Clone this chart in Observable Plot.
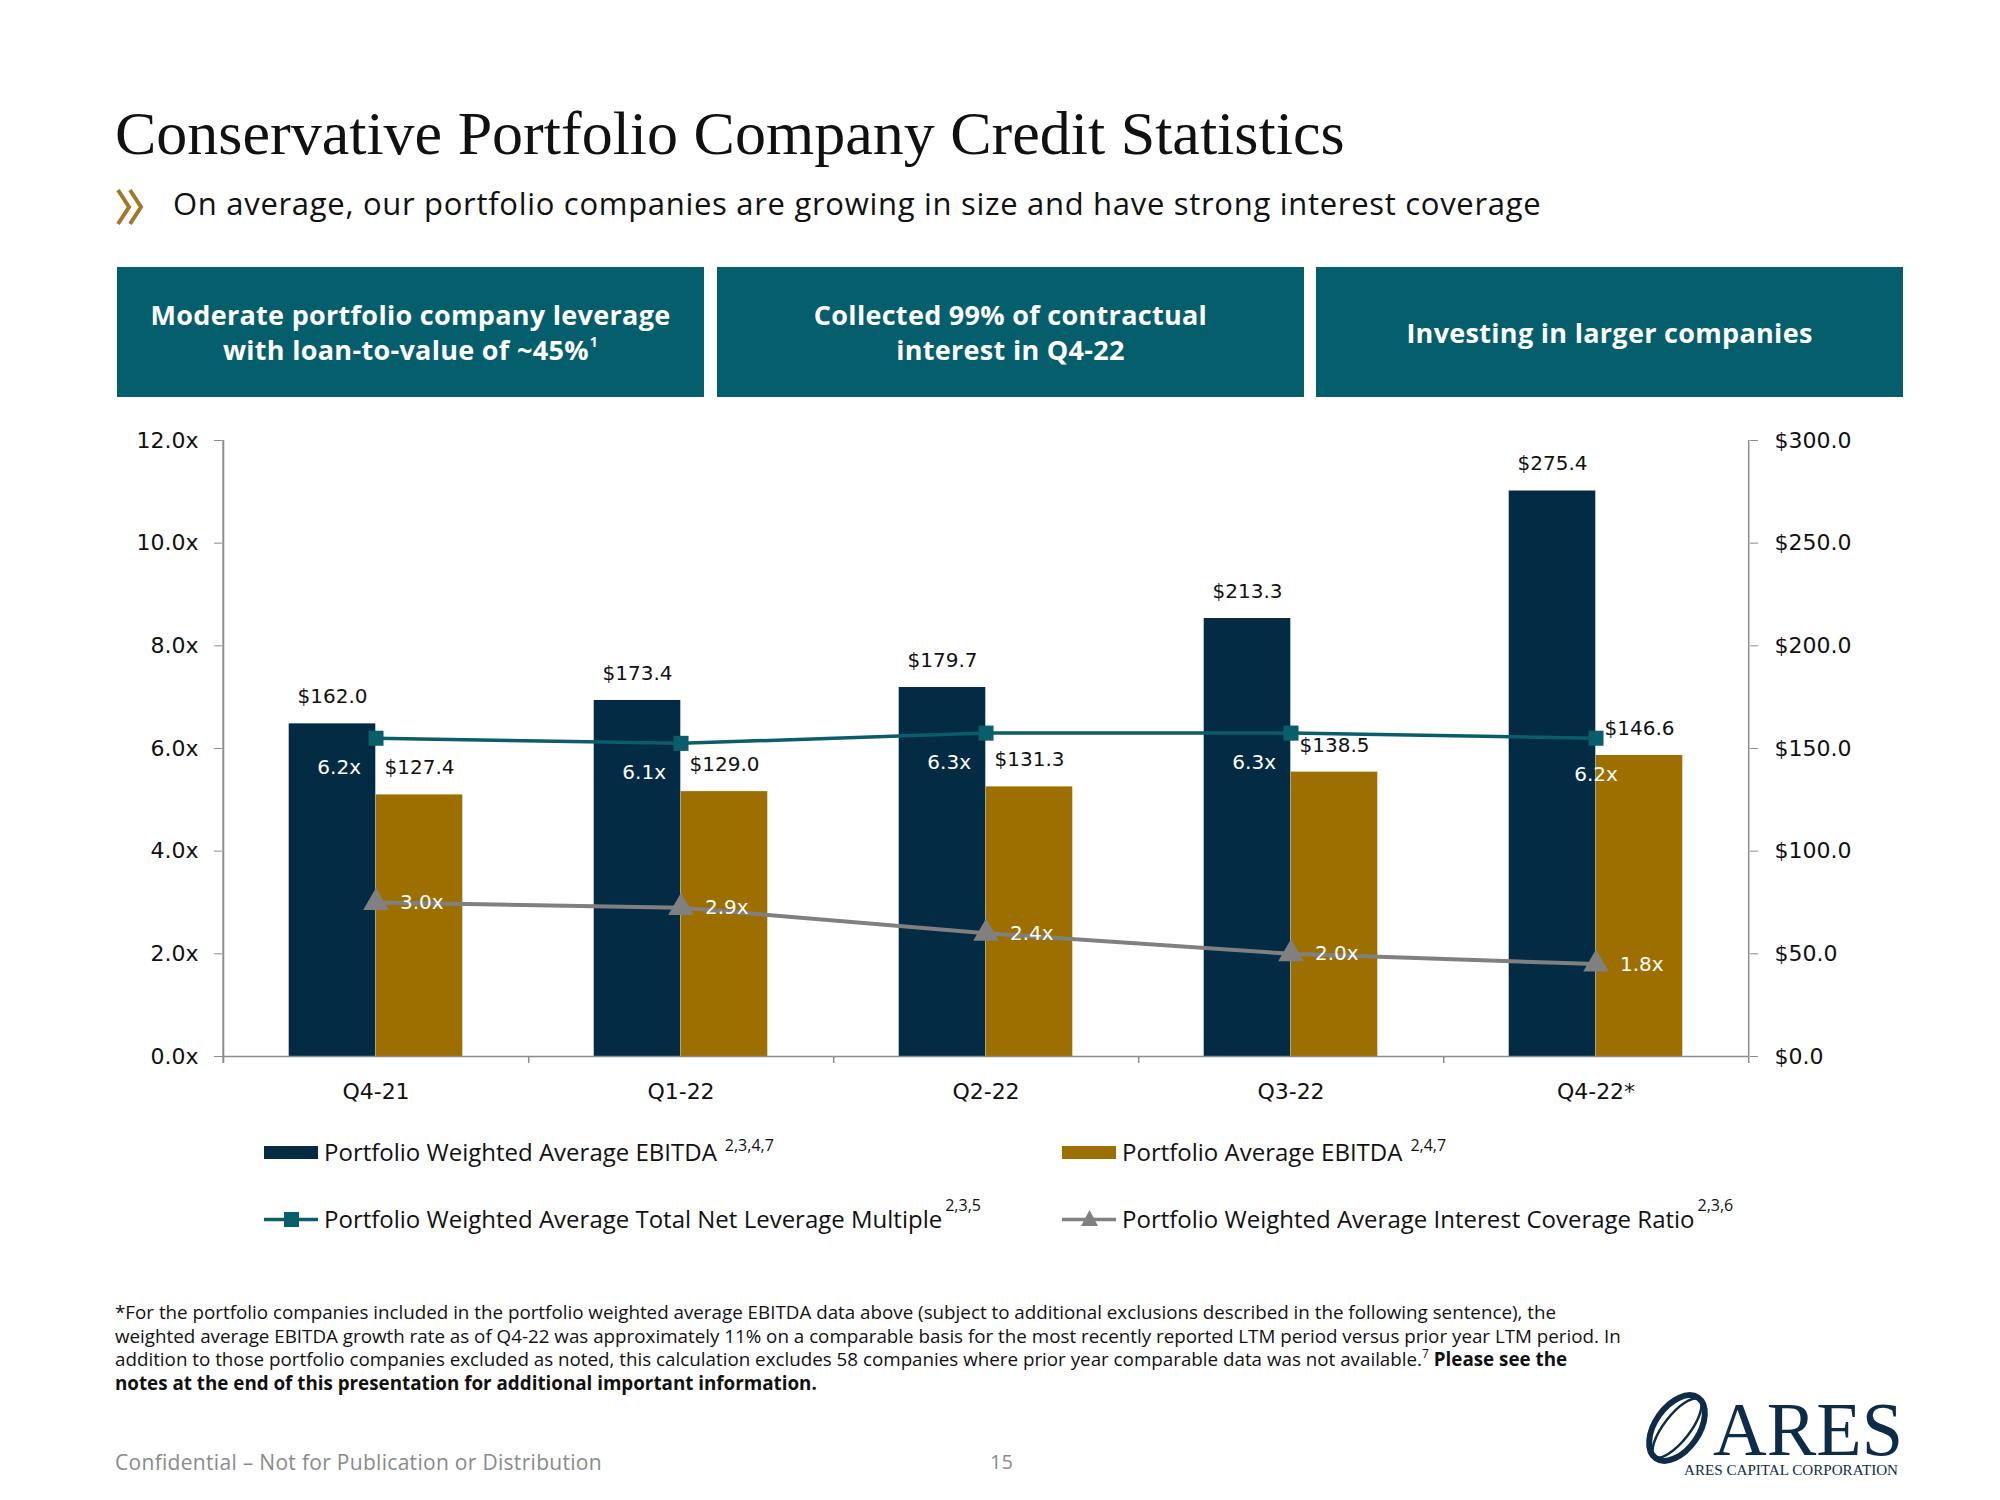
<!DOCTYPE html>
<html><head><meta charset="utf-8">
<script src="https://cdn.jsdelivr.net/npm/d3@7"></script>
<script src="https://cdn.jsdelivr.net/npm/@observablehq/plot@0.6"></script>
<style>
html,body{margin:0;padding:0;}
body{width:2000px;height:1500px;background:#fff;position:relative;overflow:hidden;font-family:"Open Sans",sans-serif;color:#111;}
.abs{position:absolute;}
#title{left:115px;top:102px;font-family:"Liberation Serif",serif;font-size:62px;line-height:62px;white-space:nowrap;color:#111;}
#subtitle{left:173px;top:186px;font-size:31px;line-height:34px;letter-spacing:0.7px;white-space:nowrap;color:#111;}
.hbox{top:267px;height:130px;width:587px;background:#055E6B;color:#fff;display:flex;align-items:center;justify-content:center;text-align:center;font-weight:700;font-size:27px;line-height:35px;letter-spacing:0.3px;}
.hbox sup{font-size:14px;line-height:0;vertical-align:baseline;position:relative;top:-13px;margin-left:1px;}
.chart{left:0;top:400px;}
.leg{font-size:24px;line-height:30px;white-space:nowrap;}
#foot{left:115px;top:1301px;width:1750px;font-size:18.8px;line-height:23.5px;color:#111;white-space:nowrap;}
#foot sup{font-size:12px;line-height:0;vertical-align:baseline;position:relative;top:-8px;}
#footer{left:115px;top:1450px;font-size:21px;line-height:24px;letter-spacing:0.3px;color:#8a8a8a;white-space:nowrap;}
#page{left:990px;top:1450px;font-size:20px;line-height:24px;color:#8a8a8a;}
</style></head><body>
<div id="title" class="abs">Conservative Portfolio Company Credit Statistics</div>
<svg class="abs" style="left:115px;top:188px" width="36" height="38" viewBox="0 0 36 38"><polyline points="3,2 14,19 3,36" fill="none" stroke="#A27828" stroke-width="4"/><polyline points="15,2 26,19 15,36" fill="none" stroke="#A27828" stroke-width="4"/></svg>
<div id="subtitle" class="abs">On average, our portfolio companies are growing in size and have strong interest coverage</div>
<div class="abs hbox" style="left:117px"><div>Moderate portfolio company leverage<br>with loan-to-value of ~45%<sup>1</sup></div></div>
<div class="abs hbox" style="left:717px"><div>Collected 99% of contractual<br>interest in Q4-22</div></div>
<div class="abs hbox" style="left:1316px"><div>Investing in larger companies</div></div>
<div id="bars" class="abs chart"></div>
<div id="lines" class="abs chart"></div>
<div id="legend"></div>
<div id="foot" class="abs">*For the portfolio companies included in the portfolio weighted average EBITDA data above (subject to additional exclusions described in the following sentence), the<br>weighted average EBITDA growth rate as of Q4-22 was approximately 11% on a comparable basis for the most recently reported LTM period versus prior year LTM period. In<br>addition to those portfolio companies excluded as noted, this calculation excludes 58 companies where prior year comparable data was not available.<sup>7</sup> <b>Please see the<br>notes at the end of this presentation for additional important information.</b></div>
<div id="footer" class="abs">Confidential – Not for Publication or Distribution</div>
<div id="page" class="abs">15</div>
<svg class="abs" style="left:1640px;top:1375px" width="270" height="112" viewBox="0 0 270 112">
  <ellipse cx="37" cy="53" rx="22" ry="37" transform="rotate(35 37 53)" fill="none" stroke="#0E2C47" stroke-width="6"/>
  <ellipse cx="37" cy="53" rx="36" ry="13" transform="rotate(-52 37 53)" fill="none" stroke="#0E2C47" stroke-width="2.5"/>
  <text x="73" y="80" font-family="Liberation Serif" font-size="76" fill="#0E2C47" textLength="190" lengthAdjust="spacingAndGlyphs">ARES</text>
  <text x="44" y="100" font-family="Liberation Serif" font-size="14" fill="#0E2C47" textLength="214" lengthAdjust="spacingAndGlyphs">ARES CAPITAL CORPORATION</text>
</svg>
<script>
// ---- data ----
const quarters = ["Q4-21", "Q1-22", "Q2-22", "Q3-22", "Q4-22*"];
const weightedAvgEbitda = [162.0, 173.4, 179.7, 213.3, 275.4];
const avgEbitda = [127.4, 129.0, 131.3, 138.5, 146.6];
const netLeverage = [6.2, 6.1, 6.3, 6.3, 6.2];
const interestCoverage = [3.0, 2.9, 2.4, 2.0, 1.8];
const leftTicks = [0, 2, 4, 6, 8, 10, 12];
const rightTicks = [0, 50, 100, 150, 200, 250, 300];
const seriesNames = [
  "Portfolio Weighted Average EBITDA",
  "Portfolio Average EBITDA",
  "Portfolio Weighted Average Total Net Leverage Multiple",
  "Portfolio Weighted Average Interest Coverage Ratio"
];
const seriesNotes = ["2,3,4,7", "2,4,7", "2,3,5", "2,3,6"];

// ---- styles ----
const NAVY = "#032B43", GOLD = "#9C6F00", TEAL = "#0A5D6B", GREY = "#808080", AXIS = "#8C8C8C";
const W = 2000, H = 720, ML = 222, MR = 251, MT = 40, MB = 64;
const bw = (W - ML - MR) / quarters.length;
const barW = 87;
const innerInset = bw / 2 - barW;

const rows = quarters.map((q, i) => ({
  q, w: weightedAvgEbitda[i], a: avgEbitda[i], lev: netLeverage[i], cov: interestCoverage[i], i
}));

const dims = {width: W, height: H, marginTop: MT, marginBottom: MB, marginLeft: ML, marginRight: MR};

const bars = Plot.plot({
  ...dims,
  x: {type: "band", domain: quarters, padding: 0, axis: null},
  y: {domain: [0, 300], axis: null},
  style: {fontFamily: "DejaVu Sans", fontSize: "22px", color: "#111", background: "transparent"},
  marks: [
    Plot.barY(rows, {x: "q", y: "w", fill: NAVY, insetLeft: innerInset, insetRight: bw / 2}),
    Plot.barY(rows, {x: "q", y: "a", fill: GOLD, insetLeft: bw / 2, insetRight: innerInset}),
    Plot.text(rows, {x: "q", y: "w", text: d => "$" + d.w.toFixed(1), dx: -barW / 2, dy: -27, fontSize: 20, fill: "#111"}),
    Plot.text(rows, {x: "q", y: "a", text: d => "$" + d.a.toFixed(1), dx: barW / 2, dy: -27, fontSize: 20, fill: "#111"}),
    Plot.ruleY([0], {stroke: AXIS, strokeWidth: 1.5}),
    Plot.ruleX([quarters[0]], {dx: -bw / 2, y1: 300, y2: 0, insetBottom: -7, stroke: AXIS, strokeWidth: 2}),
    Plot.ruleX([quarters[quarters.length - 1]], {dx: bw / 2, y1: 300, y2: 0, insetBottom: -7, stroke: AXIS, strokeWidth: 1.5}),
    Plot.ruleX(quarters.slice(0, -1), {dx: bw / 2, y1: 0, y2: 0, insetBottom: -7, stroke: AXIS, strokeWidth: 1.5}),
    Plot.axisY({anchor: "right", ticks: rightTicks, tickFormat: d => "$" + d.toFixed(1), tickSize: 8, tickPadding: 17, label: null, stroke: AXIS, fill: "#111", fontSize: 22}),
    Plot.axisX({anchor: "bottom", tickSize: 0, tickPadding: 27, label: null, fill: "#111", fontSize: 22})
  ]
});
document.getElementById("bars").append(bars);

const lines = Plot.plot({
  ...dims,
  x: {type: "band", domain: quarters, padding: 0, axis: null},
  y: {domain: [0, 12], axis: null},
  style: {fontFamily: "DejaVu Sans", fontSize: "22px", color: "#111", background: "transparent"},
  marks: [
    Plot.axisY({anchor: "left", ticks: leftTicks, tickFormat: d => d.toFixed(1) + "x", tickSize: 8, tickPadding: 16, label: null, stroke: AXIS, fill: "#111", fontSize: 22}),
    Plot.lineY(rows, {x: "q", y: "lev", stroke: TEAL, strokeWidth: 3.5}),
    Plot.dot(rows, {x: "q", y: "lev", symbol: "square", r: 8.5, fill: TEAL, stroke: null}),
    Plot.lineY(rows, {x: "q", y: "cov", stroke: GREY, strokeWidth: 4}),
    Plot.dot(rows, {x: "q", y: "cov", symbol: "triangle", r: 9.5, fill: GREY, stroke: null}),
    Plot.text(rows.filter(d => d.i < quarters.length - 1), {x: "q", y: "lev", text: d => d.lev.toFixed(1) + "x", textAnchor: "end", dx: -15, dy: 29, fontSize: 20, fill: "#fff"}),
    Plot.text(rows.filter(d => d.i === quarters.length - 1), {x: "q", y: "lev", text: d => d.lev.toFixed(1) + "x", dy: 36, fontSize: 20, fill: "#fff"}),
    Plot.text(rows, {x: "q", y: "cov", text: d => d.cov.toFixed(1) + "x", textAnchor: "start", dx: 24, fontSize: 20, fill: "#fff"})
  ]
});
document.getElementById("lines").append(lines);

// ---- legend ----
const legend = document.getElementById("legend");
const legPos = [[264, 1137], [1062, 1137], [264, 1204], [1062, 1204]];
const legSwatch = [
  `<rect x="0" y="4" width="54" height="13" fill="${NAVY}"/>`,
  `<rect x="0" y="4" width="54" height="13" fill="${GOLD}"/>`,
  `<line x1="0" y1="10.5" x2="54" y2="10.5" stroke="${TEAL}" stroke-width="3.5"/><rect x="20" y="3" width="15" height="15" fill="${TEAL}"/>`,
  `<line x1="0" y1="10.5" x2="54" y2="10.5" stroke="${GREY}" stroke-width="3.5"/><polygon points="27.5,1 36,17 19,17" fill="${GREY}"/>`
];
const supRaise = [-10, -10, -17, -17];
const supGap = [8, 8, 3, 3];
seriesNames.forEach((name, i) => {
  const [x, y] = legPos[i];
  const d = document.createElement("div");
  d.className = "abs leg";
  d.style.left = x + "px";
  d.style.top = y + "px";
  d.innerHTML = `<svg width="54" height="21" style="position:absolute;left:0;top:5px">${legSwatch[i]}</svg><span style="position:absolute;left:60px;top:0">${name}<span style="margin-left:${supGap[i]}px;top:${supRaise[i]}px;position:relative;font-size:16px">${seriesNotes[i]}</span></span>`;
  legend.append(d);
});
</script>
</body></html>
